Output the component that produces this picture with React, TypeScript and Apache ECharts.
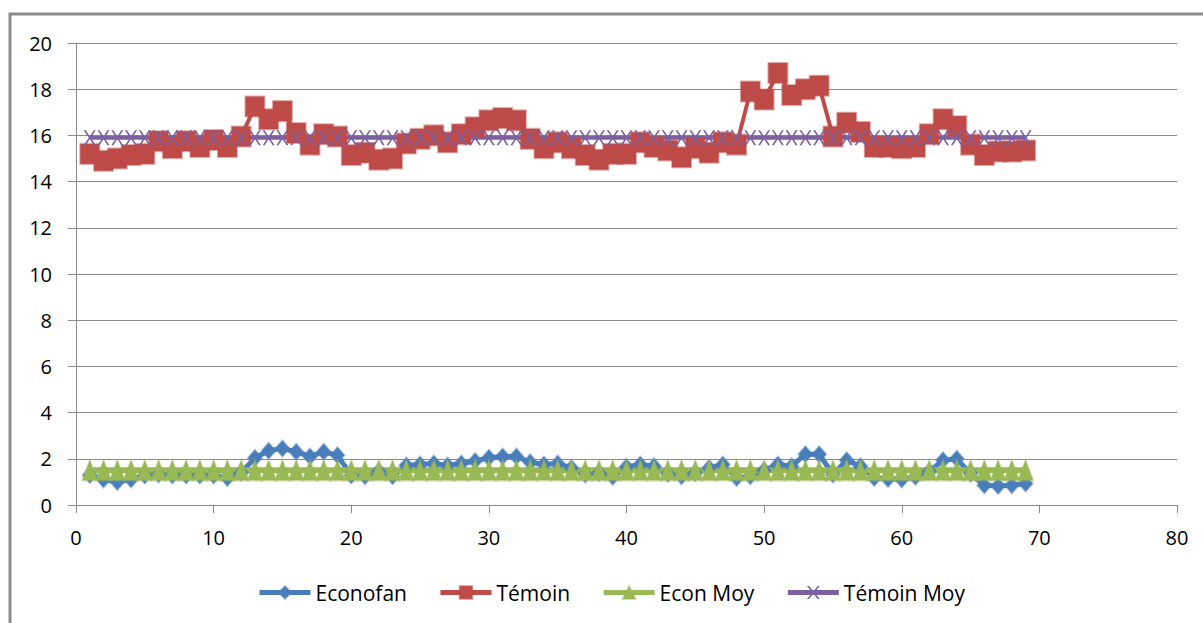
import React, { useEffect, useRef } from "react";
import * as echarts from "echarts";

const days: number[] = Array.from({ length: 69 }, (_, i) => i + 1);

const econofan: number[] = [
  1.3, 1.1, 1.0, 1.1, 1.28, 1.32, 1.28, 1.28, 1.28, 1.28,
  1.17, 1.4, 2.04, 2.35, 2.45, 2.3, 2.1, 2.3, 2.15, 1.28,
  1.25, 1.46, 1.25, 1.71, 1.75, 1.8, 1.71, 1.8, 1.9, 2.05,
  2.1, 2.1, 1.85, 1.75, 1.8, 1.6, 1.32, 1.39, 1.22, 1.65,
  1.75, 1.68, 1.35, 1.25, 1.39, 1.6, 1.75, 1.17, 1.25, 1.5,
  1.75, 1.68, 2.2, 2.2, 1.32, 1.94, 1.68, 1.17, 1.13, 1.1,
  1.22, 1.45, 1.94, 2.0, 1.35, 0.85, 0.82, 0.85, 0.93,
];

const temoin: number[] = [
  15.2, 14.9, 15.0, 15.15, 15.2, 15.75, 15.45, 15.75, 15.5, 15.8,
  15.5, 15.95, 17.25, 16.7, 17.05, 16.1, 15.6, 16.05, 15.95, 15.15,
  15.25, 14.95, 15.0, 15.65, 15.85, 16.0, 15.7, 16.05, 16.35, 16.65,
  16.75, 16.65, 15.85, 15.45, 15.7, 15.45, 15.15, 14.95, 15.2, 15.2,
  15.7, 15.5, 15.35, 15.05, 15.45, 15.25, 15.7, 15.6, 17.9, 17.55,
  18.7, 17.75, 18.0, 18.15, 15.95, 16.55, 16.15, 15.5, 15.5, 15.45,
  15.5, 16.05, 16.7, 16.4, 15.6, 15.15, 15.3, 15.3, 15.35,
];

const econMoy: number[] = [
  1.5, 1.5, 1.5, 1.5, 1.5, 1.5, 1.5, 1.5, 1.5, 1.5,
  1.5, 1.5, 1.5, 1.5, 1.5, 1.5, 1.5, 1.5, 1.5, 1.5,
  1.5, 1.5, 1.5, 1.5, 1.5, 1.5, 1.5, 1.5, 1.5, 1.5,
  1.5, 1.5, 1.5, 1.5, 1.5, 1.5, 1.5, 1.5, 1.5, 1.5,
  1.5, 1.5, 1.5, 1.5, 1.5, 1.5, 1.5, 1.5, 1.5, 1.5,
  1.5, 1.5, 1.5, 1.5, 1.5, 1.5, 1.5, 1.5, 1.5, 1.5,
  1.5, 1.5, 1.5, 1.5, 1.5, 1.5, 1.5, 1.5, 1.5,
];

const temoinMoy: number[] = [
  15.9, 15.9, 15.9, 15.9, 15.9, 15.9, 15.9, 15.9, 15.9, 15.9,
  15.9, 15.9, 15.9, 15.9, 15.9, 15.9, 15.9, 15.9, 15.9, 15.9,
  15.9, 15.9, 15.9, 15.9, 15.9, 15.9, 15.9, 15.9, 15.9, 15.9,
  15.9, 15.9, 15.9, 15.9, 15.9, 15.9, 15.9, 15.9, 15.9, 15.9,
  15.9, 15.9, 15.9, 15.9, 15.9, 15.9, 15.9, 15.9, 15.9, 15.9,
  15.9, 15.9, 15.9, 15.9, 15.9, 15.9, 15.9, 15.9, 15.9, 15.9,
  15.9, 15.9, 15.9, 15.9, 15.9, 15.9, 15.9, 15.9, 15.9,
];

const seriesNames = ["Econofan", "Témoin", "Econ Moy", "Témoin Moy"];

const FONT = "'Open Sans', 'Noto Sans', sans-serif";
const GRID_COLOR = "#8a8a8a";
const X_MARK =
  "path://M0,0 L2,0 L6,5 L10,0 L12,0 L7,6 L12,12 L10,12 L6,7 L2,12 L0,12 L5,6 Z";

function pairs(ys: number[]): number[][] {
  return days.map((d, i) => [d, ys[i]]);
}

export default function App() {
  const ref = useRef<HTMLDivElement>(null);

  useEffect(() => {
    if (!ref.current) return;
    const chart = echarts.init(ref.current, undefined, { renderer: "svg" });
    chart.setOption({
      animation: false,
      backgroundColor: "#ffffff",
      graphic: [
        {
          type: "rect",
          shape: { x: 10, y: 14, width: 1400, height: 800 },
          style: { fill: "none", stroke: "#8c8c8c", lineWidth: 3 },
          silent: true,
        },
      ],
      grid: { left: 76, right: 26, top: 43, bottom: 118, containLabel: false },
      legend: {
        data: seriesNames,
        left: 252,
        top: 577,
        itemWidth: 51,
        itemHeight: 16,
        itemGap: 31,
        lineStyle: { width: 5 },
        textStyle: { fontFamily: FONT, fontSize: 21, color: "#000" },
      },
      xAxis: {
        type: "value",
        min: 0,
        max: 80,
        interval: 10,
        axisLine: { show: true, lineStyle: { color: GRID_COLOR, width: 1 } },
        axisTick: { show: true, length: 8, lineStyle: { color: GRID_COLOR } },
        splitLine: { show: false },
        axisLabel: { fontFamily: FONT, fontSize: 20, color: "#000", margin: 22 },
      },
      yAxis: {
        type: "value",
        min: 0,
        max: 20,
        interval: 2,
        axisLine: { show: true, lineStyle: { color: GRID_COLOR, width: 1 } },
        axisTick: { show: true, length: 8, lineStyle: { color: GRID_COLOR } },
        splitLine: { show: true, lineStyle: { color: GRID_COLOR, width: 1 } },
        axisLabel: { fontFamily: FONT, fontSize: 20, color: "#000", margin: 24 },
      },
      series: [
        {
          name: seriesNames[0],
          type: "line",
          data: pairs(econofan),
          symbol: "diamond",
          symbolSize: [14, 16],
          lineStyle: { color: "#4a7ebb", width: 5 },
          itemStyle: { color: "#4a7ebb", borderColor: "rgba(74,126,187,0.45)", borderWidth: 2 },
        },
        {
          name: seriesNames[1],
          type: "line",
          data: pairs(temoin),
          symbol: "rect",
          symbolSize: [19, 20],
          lineStyle: { color: "#be4b48", width: 4 },
          itemStyle: { color: "#be4b48", borderColor: "rgba(190,75,72,0.45)", borderWidth: 2 },
        },
        {
          name: seriesNames[2],
          type: "line",
          data: pairs(econMoy),
          symbol: "triangle",
          symbolSize: [15, 20],
          lineStyle: { color: "#98b954", width: 6 },
          itemStyle: { color: "#98b954", borderColor: "rgba(152,185,84,0.45)", borderWidth: 2 },
        },
        {
          name: seriesNames[3],
          type: "line",
          data: pairs(temoinMoy),
          symbol: X_MARK,
          symbolSize: [12, 15],
          lineStyle: { color: "#7d60a0", width: 4 },
          itemStyle: { color: "#7d60a0" },
        },
      ],
    });
    return () => chart.dispose();
  }, []);

  return (
    <div
      ref={ref}
      style={{ position: "absolute", left: 0, top: 0, width: 1203, height: 623 }}
    />
  );
}
